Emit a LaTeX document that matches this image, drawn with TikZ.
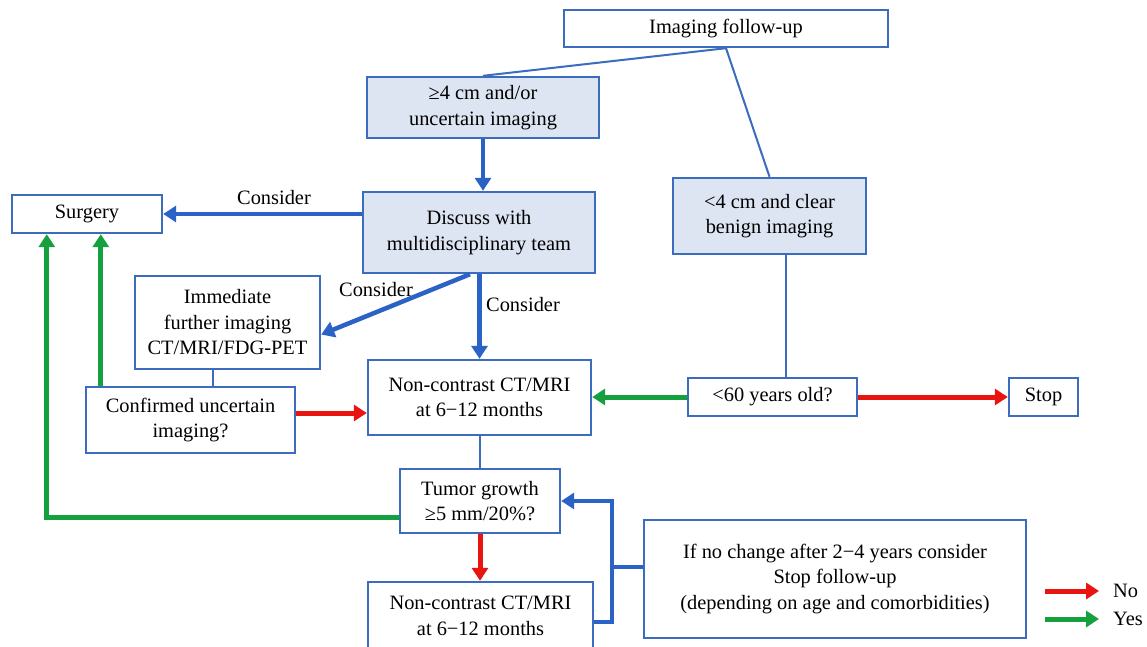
\documentclass[tikz,border=0pt]{standalone}
\usepackage{fontspec}
\setmainfont{Liberation Serif}
\usetikzlibrary{arrows.meta,calc}
\definecolor{boxblue}{HTML}{3B6CBE}
\definecolor{arrowblue}{HTML}{2A62C6}
\definecolor{fillblue}{HTML}{DDE5F3}
\definecolor{myred}{HTML}{E8140F}
\definecolor{mygreen}{HTML}{14A03C}
\begin{document}
\begin{tikzpicture}[x=1pt,y=-1pt,
  box/.style={draw=boxblue, line width=2.4pt, fill=white, inner sep=0pt, align=center,
    font=\fontsize{20.4pt}{25.5pt}\selectfont},
  shaded/.style={box, fill=fillblue},
  thinline/.style={draw=boxblue, line width=2pt},
  bline/.style={draw=arrowblue, line width=4.5pt},
  barrow/.style={bline, -{Triangle[length=13pt,width=16pt]}},
  rarrow/.style={draw=myred, line width=5pt, -{Triangle[length=13pt,width=16pt]}},
  garrow/.style={draw=mygreen, line width=5pt, -{Triangle[length=13pt,width=16pt]}},
  lbl/.style={font=\fontsize{20.4pt}{25.5pt}\selectfont, inner sep=0pt}
]
\useasboundingbox (0,0) rectangle (1147,647);
\clip (0,0) rectangle (1147,647);
\fill[white] (0,0) rectangle (1147,647);

% nodes
\node[box, minimum width=324pt, minimum height=37pt] (follow) at (726,28.5) {Imaging follow-up};
\node[shaded, minimum width=232pt, minimum height=61pt] (big) at (483,107.5) {≥4 cm and/or\\uncertain imaging};
\node[shaded, minimum width=193pt, minimum height=76pt] (small) at (769.5,216) {<4 cm and clear\\benign imaging};
\node[shaded, minimum width=232pt, minimum height=81pt] (mdt) at (479,232.5) {Discuss with\\multidisciplinary team};
\node[box, minimum width=150pt, minimum height=38pt] (surgery) at (87,214) {Surgery};
\node[box, minimum width=185pt, minimum height=93pt] (imm) at (227.5,322.5) {Immediate\\further imaging\\CT/MRI/FDG-PET};
\node[box, minimum width=209pt, minimum height=66pt] (conf) at (190.5,420) {Confirmed uncertain\\imaging?};
\node[box, minimum width=223pt, minimum height=75pt] (nc1) at (479.5,397.5) {Non-contrast CT/MRI\\at 6−12 months};
\node[box, minimum width=169pt, minimum height=38pt] (age) at (772.5,397) {<60 years old?};
\node[box, minimum width=69pt, minimum height=38pt] (stop) at (1043.5,397) {Stop};
\node[box, minimum width=160pt, minimum height=64pt] (tumor) at (480,501) {Tumor growth\\≥5 mm/20\%?};
\node[box, minimum width=225pt, minimum height=68pt] (nc2) at (480.5,616) {Non-contrast CT/MRI\\at 6−12 months};
\node[box, minimum width=382pt, minimum height=118pt] (note) at (835,579) {If no change after 2−4 years consider\\Stop follow-up\\(depending on age and comorbidities)};

% helper coordinates
\coordinate (immx) at ($(imm.south)+(-15,0)$);
\coordinate (confg) at ($(conf.north west)+(16,0)$);
\coordinate (confr) at ($(conf.east)+(0,-7)$);
\coordinate (tumg) at ($(tumor.west)+(0,16)$);
\coordinate (surgg) at ($(surgery.south west)+(36,0)$);
\coordinate (smallx) at ($(small.south)+(16,0)$);
\coordinate (mdtd) at ($(mdt.south)+(-9,0)$);
\coordinate (immd) at ($(imm.east)+(0,12)$);
\coordinate (nc2b) at ($(nc2.east)+(0,6)$);
\coordinate (brk) at (612,567);

% connectors
\draw[thinline] (follow.south) -- (big.north);
\draw[thinline] (follow.south) -- (small.north);
\draw[barrow] (big.south) -- (big.south |- mdt.north);
\draw[barrow] (mdt.west |- surgery.east) -- (surgery.east);
\node[lbl] (c1) at (274,198) {Consider};
\draw[barrow] (mdtd) -- (immd);
\node[lbl] (c2) at (376,290) {Consider};
\draw[barrow] (nc1.north |- mdt.south) -- (nc1.north);
\node[lbl] (c3) at (523,305) {Consider};
\draw[thinline] (immx) -- (immx |- conf.north);
\draw[garrow] (confg) -- (confg |- surgery.south);
\draw[rarrow] (confr) -- (confr -| nc1.west);
\draw[garrow] (tumg) -| (surgg);
\draw[garrow] (age.west) -- (age.west -| nc1.east);
\draw[rarrow] (age.east) -- (stop.west);
\draw[thinline] (smallx) -- (smallx |- age.north);
\draw[thinline] (nc1.south) -- (nc1.south |- tumor.north);
\draw[rarrow] (tumor.south) -- (tumor.south |- nc2.north);
\draw[barrow] (nc2b) -| (brk) |- (tumor.east);
\draw[bline] (note.west |- brk) -- (brk);

% legend
\node[lbl, anchor=west] (no) at (1113,591) {No};
\node[lbl, anchor=west] (yes) at (1113,619) {Yes};
\coordinate (nos) at (1045,591);
\coordinate (yess) at (1045,619);
\coordinate (noe) at ($(no.west)+(-14,0)$);
\coordinate (yese) at ($(yes.west)+(-14,0)$);
\draw[rarrow] (nos) -- (noe);
\draw[garrow] (yess) -- (yese);
\end{tikzpicture}
\end{document}
